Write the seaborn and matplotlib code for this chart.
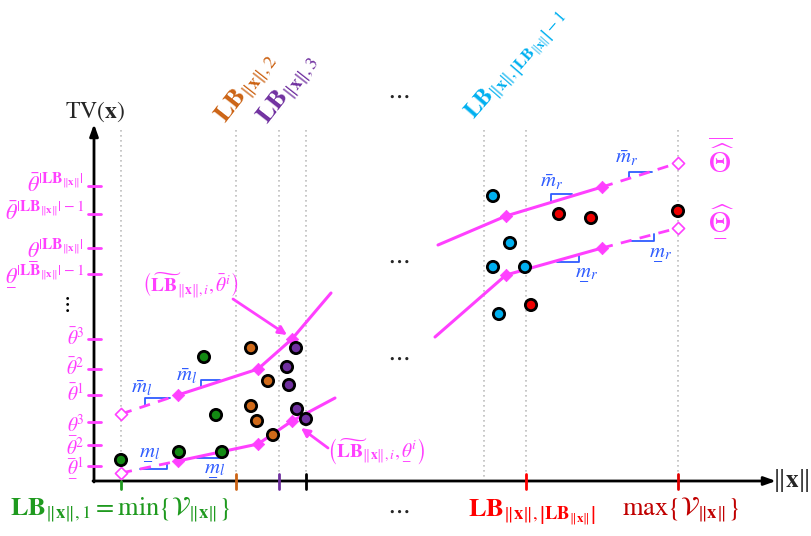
import io
import numpy as np
import pandas as pd
import matplotlib
matplotlib.use("Agg")
import matplotlib.pyplot as plt
import seaborn as sns

# ---------------- data (diagram coordinates: x right, y down) ----------------
green_x = [121, 179, 204, 216, 222]
green_y = [460, 452, 357, 415, 452]
orange_x = [251, 268, 251, 257, 273]
orange_y = [348, 381, 406, 421, 435]
purple_x = [296, 287, 289, 297, 306]
purple_y = [348, 367, 385, 409, 419]
cyan_x = [493, 510, 493, 525, 499]
cyan_y = [196, 243, 267, 267, 314]
red_x = [559, 591, 678, 531]
red_y = [214, 218, 211, 305]

# piecewise upper / lower envelopes
ul_x = [121, 178, 258, 292, 331]
ul_y = [414, 395, 369, 339, 293]
ll_x = [121, 178, 258, 292, 335]
ll_y = [473, 461, 444, 421, 398]
ur_x = [438, 506, 602, 678]
ur_y = [245, 216, 187, 163]
lr_x = [435, 506, 602, 678]
lr_y = [337, 275, 248, 228]

grid_x = [121, 236, 279, 306, 484, 526, 678]
xtick_x = [121, 236, 279, 306, 526, 678]
xtick_c = ["#1f9a1f", "#cc6314", "#7030a0", "#000000", "#ff0000", "#e00000"]
ytick_y = [186, 214, 248, 274, 339, 369, 395, 422, 445, 466]

# slope brackets
brackets = [
    ([145, 145, 170], [406, 398.3, 398.3]),
    ([201, 201, 220], [387.5, 380, 380]),
    ([140, 166.7, 166.7], [469, 469, 463.5]),
    ([196.7, 221.7, 221.7], [457.5, 457.5, 452]),
    ([550.7, 550.7, 571.7], [201, 194.3, 194.3]),
    ([629, 629, 652.3], [177.7, 171.7, 171.7]),
    ([556.7, 579.3, 579.3], [262, 262, 255.7]),
    ([628.3, 654.3, 654.3], [241.3, 241.3, 234.3]),
]

# ---------------- style ----------------
sns.set_style("white")
plt.rcParams["font.family"] = ["DejaVu Serif"]
plt.rcParams["mathtext.fontset"] = "stix"

PINK = "#ff40ff"
BLUE = "#2f5cff"
GREEN = "#1f9a1f"
ORANGE = "#cc6314"
PURPLE = "#7030a0"
CYAN = "#00b0f0"
RED = "#ff0000"
DRED = "#c00000"


def _ok(s):
    f = plt.figure()
    f.text(0, 0, s)
    try:
        f.savefig(io.BytesIO())
        ok = True
    except Exception:
        ok = False
    plt.close(f)
    return ok


UL_OK = _ok(r"$\underline{\theta}$")


def ul(s):
    return r"\underline{%s}" % s if UL_OK else r"\underset{-}{%s}" % s


NX = r"\Vert\mathbf{x}\Vert"
LBN = r"\mathbf{LB}_{%s}" % NX

fig = plt.figure(figsize=(8.11, 5.36), dpi=100)
ax = fig.add_axes([0, 0, 1, 1])
ax.set_xlim(0, 811)
ax.set_ylim(536, 0)
ax.axis("off")

# grid lines
for gx in grid_x:
    ax.plot([gx, gx], [130, 481], ls=(0, (1, 2)), color="#bdbdbd", lw=1.2, zorder=1)

# axes arrows
ax.annotate("", xy=(94, 124), xytext=(94, 482),
            arrowprops=dict(arrowstyle="-|>,head_length=0.7,head_width=0.25",
                            lw=2, color="black", shrinkA=0, shrinkB=0), zorder=3)
ax.annotate("", xy=(776, 481), xytext=(93, 481),
            arrowprops=dict(arrowstyle="-|>,head_length=0.7,head_width=0.25",
                            lw=2, color="black", shrinkA=0, shrinkB=0), zorder=3)

# x ticks
for tx, tc in zip(xtick_x, xtick_c):
    top = 481 if tx == xtick_x[0] else 474
    ax.plot([tx, tx], [top, 489], color=tc, lw=2, zorder=4)
# y ticks
for ty in ytick_y:
    ax.plot([88, 101], [ty, ty], color=PINK, lw=2, zorder=4)

# y labels
th_b = r"\bar{\theta}"
th_u = ul(r"\theta")
sup_lb = r"|%s|" % LBN
ylabels = [
    r"$%s^{%s}$" % (th_b, sup_lb),
    r"$%s^{%s-1}$" % (th_b, sup_lb),
    r"$%s^{%s}$" % (th_u, sup_lb),
    r"$%s^{%s-1}$" % (th_u, sup_lb),
    r"$%s^{3}$" % th_b,
    r"$%s^{2}$" % th_b,
    r"$%s^{1}$" % th_b,
    r"$%s^{3}$" % th_u,
    r"$%s^{2}$" % th_u,
    r"$%s^{1}$" % th_u,
]
for ty, lab in zip(ytick_y, ylabels):
    ax.text(84, ty + 6, lab, color=PINK, fontsize=16 if "LB" in lab else 14,
            ha="right", va="baseline")
ax.text(66, 304, r"$\vdots$", fontsize=16, ha="center", va="center", color="black")

# pink envelopes
def envelope(xs, ys, dashed_first):
    if dashed_first:
        sns.lineplot(x=xs[:2], y=ys[:2], sort=False, estimator=None, color=PINK,
                     lw=2, ls=(0, (4, 3)), ax=ax, zorder=5)
        sns.lineplot(x=xs[1:], y=ys[1:], sort=False, estimator=None, color=PINK,
                     lw=2.2, ax=ax, zorder=5)
        hollow = 0
        filled = [1, 2, 3]
    else:
        sns.lineplot(x=xs[:3], y=ys[:3], sort=False, estimator=None, color=PINK,
                     lw=2.2, ax=ax, zorder=5)
        sns.lineplot(x=xs[2:], y=ys[2:], sort=False, estimator=None, color=PINK,
                     lw=2, ls=(0, (4, 3)), ax=ax, zorder=5)
        hollow = len(xs) - 1
        filled = [1, 2]
    sns.scatterplot(x=[xs[i] for i in filled], y=[ys[i] for i in filled],
                    marker="D", s=40, color=PINK, edgecolor=PINK, ax=ax, zorder=6)
    sns.scatterplot(x=[xs[hollow]], y=[ys[hollow]], marker="D", s=38,
                    facecolor="white", edgecolor=PINK, linewidth=1.2, ax=ax, zorder=6)


envelope(ul_x, ul_y, True)
envelope(ll_x, ll_y, True)
envelope(ur_x, ur_y, False)
envelope(lr_x, lr_y, False)

# points
df = pd.DataFrame({
    "x": green_x + orange_x + purple_x + cyan_x + red_x,
    "y": green_y + orange_y + purple_y + cyan_y + red_y,
    "g": ["green"] * len(green_x) + ["orange"] * len(orange_x)
         + ["purple"] * len(purple_x) + ["cyan"] * len(cyan_x) + ["red"] * len(red_x),
})
pal = {"green": "#138a13", "orange": "#d06a1a", "purple": PURPLE,
       "cyan": CYAN, "red": "#ee0000"}
sns.scatterplot(data=df, x="x", y="y", hue="g", palette=pal, s=66,
                edgecolor="black", linewidth=2.0, legend=False, ax=ax, zorder=7)

# slope brackets
for bx, by in brackets:
    ax.plot(bx, by, color=BLUE, lw=1.3, zorder=4)

# slope labels
mb_l = r"$\bar{m}_l$"
mu_l = r"$%s_l$" % ul("m")
mb_r = r"$\bar{m}_r$"
mu_r = r"$%s_r$" % ul("m")
for (tx, ty, lab) in [(142, 388, mb_l), (187, 376, mb_l), (150, 453, mu_l),
                      (215, 468, mu_l), (552, 182, mb_r), (627, 158, mb_r),
                      (587, 273, mu_r), (661, 253, mu_r)]:
    ax.text(tx, ty, lab, color=BLUE, fontsize=15, ha="center", va="center", zorder=8)

# annotations
ax.text(190, 286, r"$\left(\widetilde{%s}_{%s,i},%s^{i}\right)$" % (r"\mathbf{LB}", NX, th_b),
        color=PINK, fontsize=14, ha="center", va="center")
ax.annotate("", xy=(287, 335), xytext=(233, 299),
            arrowprops=dict(arrowstyle="-|>,head_length=0.5,head_width=0.25",
                            lw=2, color=PINK, shrinkA=0, shrinkB=0), zorder=8)
ax.text(376, 451, r"$\left(\widetilde{%s}_{%s,i},%s^{i}\right)$" % (r"\mathbf{LB}", NX, th_u),
        color=PINK, fontsize=14, ha="center", va="center")
ax.annotate("", xy=(301, 428), xytext=(328, 448),
            arrowprops=dict(arrowstyle="-|>,head_length=0.5,head_width=0.25",
                            lw=2, color=PINK, shrinkA=0, shrinkB=0), zorder=8)

# Theta labels
ax.text(721, 160, r"$\overline{\widehat{\Theta}}$", color=PINK, fontsize=22, ha="center", va="center")
ax.text(721, 220, r"$%s$" % ul(r"\widehat{\Theta}"), color=PINK, fontsize=22, ha="center", va="center")

# axis titles
ax.text(95, 112, r"$\mathrm{TV}(\mathbf{x})$", fontsize=17, ha="center", va="center")
ax.text(791, 481, r"$\Vert\mathbf{x}\Vert$", fontsize=18, ha="center", va="center")

# top rotated labels
ax.text(226, 124, r"$%s_{%s,2}$" % (r"\mathbf{LB}", NX), color=ORANGE, fontsize=19,
        rotation=52, rotation_mode="anchor", ha="left", va="baseline")
ax.text(268, 125, r"$%s_{%s,3}$" % (r"\mathbf{LB}", NX), color=PURPLE, fontsize=19,
        rotation=52, rotation_mode="anchor", ha="left", va="baseline")
ax.text(474, 120, r"$%s_{%s,\left|%s\right|-1}$" % (r"\mathbf{LB}", NX, LBN), color=CYAN,
        fontsize=17, rotation=49, rotation_mode="anchor", ha="left", va="baseline")

# dots
for (dx, dy) in [(398, 95), (398, 260), (398, 357), (398, 510)]:
    ax.text(dx, dy, r"$\cdots$", fontsize=18, ha="center", va="center")

# bottom labels
ax.text(10, 510, r"$%s_{%s,1}=\min\left\{\mathcal{V}_{%s}\right\}$" % (r"\mathbf{LB}", NX, NX),
        color=GREEN, fontsize=19, ha="left", va="center")
ax.text(468, 512, r"$%s_{%s,\left|%s\right|}$" % (r"\mathbf{LB}", NX, LBN),
        color=RED, fontsize=19, ha="left", va="center")
ax.text(622, 510, r"$\max\left\{\mathcal{V}_{%s}\right\}$" % NX,
        color=DRED, fontsize=19, ha="left", va="center")

fig.savefig("out.png", dpi=100)
